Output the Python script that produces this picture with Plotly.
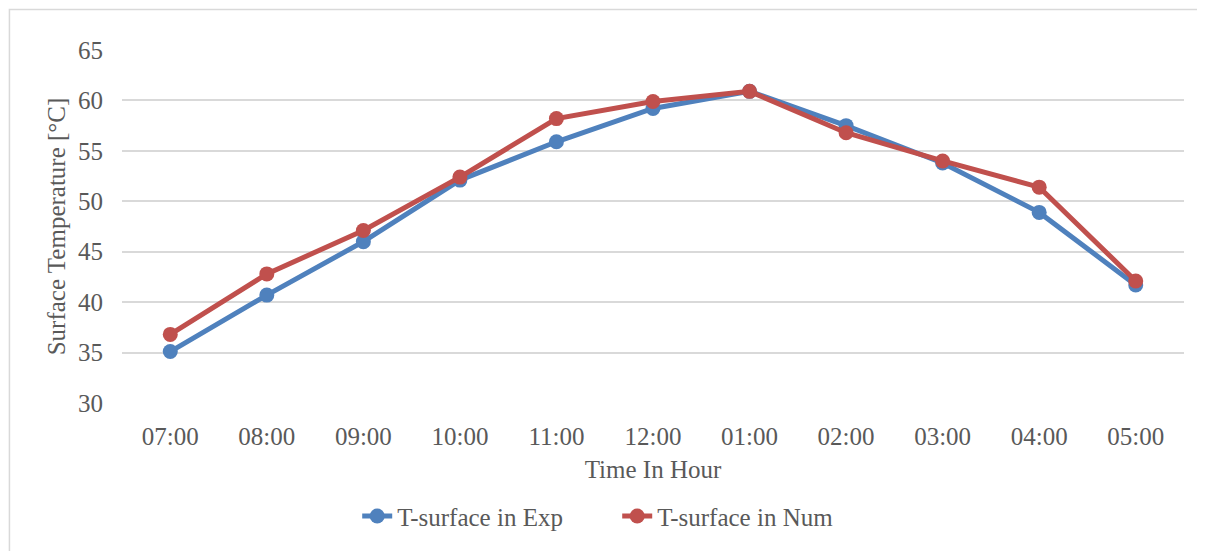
import plotly.graph_objects as go

hours = ["07:00", "08:00", "09:00", "10:00", "11:00", "12:00", "01:00", "02:00", "03:00", "04:00", "05:00"]
t_exp = [35.1, 40.7, 46.0, 52.1, 55.9, 59.2, 60.9, 57.5, 53.8, 48.9, 41.7]
t_num = [36.8, 42.8, 47.1, 52.4, 58.2, 59.9, 60.9, 56.8, 54.0, 51.4, 42.1]
y_ticks = [30, 35, 40, 45, 50, 55, 60, 65]

FONT = "Liberation Serif"
TXT = "#595959"
FS = 25

fig = go.Figure()
fig.add_trace(go.Scatter(x=hours, y=t_exp, name="T-surface in Exp", mode="lines+markers",
                         line=dict(color="#4F81BD", width=5), marker=dict(size=15, color="#4F81BD")))
fig.add_trace(go.Scatter(x=hours, y=t_num, name="T-surface in Num", mode="lines+markers",
                         line=dict(color="#C0504D", width=5), marker=dict(size=15, color="#C0504D")))

fig.update_layout(
    width=1197, height=543,
    margin=dict(l=114, r=21, t=42, b=146),
    paper_bgcolor="white", plot_bgcolor="white",
    font=dict(family=FONT, size=FS, color=TXT),
    showlegend=True,
    legend=dict(orientation="h", x=0.4663, xanchor="center", y=-0.321, yanchor="middle",
                entrywidth=215, entrywidthmode="pixels",
                font=dict(family=FONT, size=FS, color=TXT)),
    xaxis=dict(type="category", range=[-0.5, 10.5], showgrid=False, showline=False, zeroline=False,
               ticks="", ticklabelstandoff=16, tickfont=dict(family=FONT, size=FS, color=TXT),
               title=dict(text="Time In Hour", font=dict(family=FONT, size=FS, color=TXT), standoff=11)),
    yaxis=dict(range=[30, 65], tickvals=y_ticks, showgrid=True, gridcolor="#D9D9D9", gridwidth=2,
               zeroline=False, showline=False, ticks="", ticklabelstandoff=18,
               tickfont=dict(family=FONT, size=FS, color=TXT),
               title=dict(text="Surface Temperature [°C]", font=dict(family=FONT, size=FS, color=TXT), standoff=5)),
    shapes=[dict(type="rect", xref="paper", yref="paper", x0=-0.106, x1=1.2, y0=-0.5, y1=1.115,
                 line=dict(color="#D9D9D9", width=1.5), fillcolor="rgba(0,0,0,0)", layer="below")],
)

fig.write_html("out.html")
